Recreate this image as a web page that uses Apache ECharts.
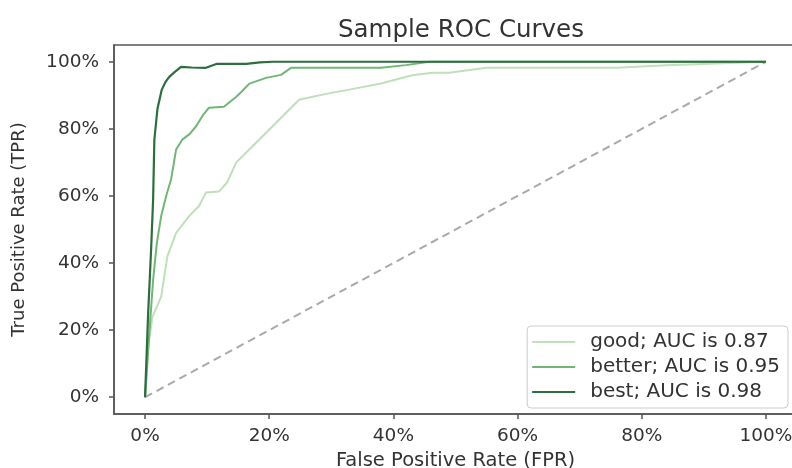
<!DOCTYPE html>
<html>
<head>
<meta charset="utf-8">
<script src="https://cdn.jsdelivr.net/npm/echarts@6/dist/echarts.min.js"></script>
<style>
html,body{margin:0;padding:0;background:#fff;}
#chart{width:792px;height:468px;}
</style>
</head>
<body>
<div id="chart"></div>
<script>
const tickValues = [0, 20, 40, 60, 80, 100];

const fprGood = [0, 0.5, 1.2, 2.6, 3.6, 5.0, 7.1, 8.7, 9.8, 11.9, 13.2, 14.7, 17.3, 20.5, 22.7, 24.8, 27.0, 30.2, 32.9, 38.0, 43.0, 46.3, 49.0, 55.0, 76.0, 84.0, 100];
const tprGood = [0, 15, 24, 30, 42, 49, 54, 57, 61, 61.3, 64, 70, 74.8, 80.7, 84.8, 88.7, 89.6, 90.8, 91.7, 93.5, 96.0, 96.7, 96.7, 98.2, 98.2, 99.0, 100];

const fprBetter = [0, 0.8, 1.3, 1.9, 2.6, 3.4, 4.2, 5.0, 6.0, 7.2, 8.2, 9.3, 10.3, 12.7, 14.7, 15.5, 16.8, 19.5, 21.9, 23.5, 38.0, 42.0, 45.8, 100];
const tprBetter = [0, 22, 35, 46, 54, 60, 65, 73.8, 76.8, 78.5, 80.7, 84.0, 86.3, 86.6, 89.6, 91.0, 93.5, 95.2, 96.1, 98.2, 98.2, 99.0, 100, 100];

const fprBest = [0, 0.5, 1.0, 1.3, 1.5, 2.0, 2.7, 3.3, 3.9, 4.8, 5.8, 7.5, 9.8, 11.6, 16.3, 18.5, 20.5, 100];
const tprBest = [0, 25, 45, 59, 76.8, 86, 91.7, 94, 95.5, 97, 98.5, 98.3, 98.2, 99.4, 99.4, 99.8, 100, 100];

const fprDiag = [0, 100];
const tprDiag = [0, 100];

const names = ['good; AUC is 0.87', 'better; AUC is 0.95', 'best; AUC is 0.98'];
const colors = ['#bfe0b8', '#70b774', '#2c6e3f'];

function zip(xs, ys) { return xs.map((x, i) => [x, ys[i]]); }

const FONT = 'DejaVu Sans';
const chart = echarts.init(document.getElementById('chart'), null, {renderer: 'canvas'});
chart.setOption({
  animation: false,
  backgroundColor: '#fff',
  title: {
    text: 'Sample ROC Curves',
    left: 456, textAlign: 'center', top: 13,
    textStyle: {fontFamily: FONT, fontSize: 24.5, fontWeight: 'normal', color: '#333'}
  },
  grid: {left: 114, right: -5, top: 45, bottom: 54, outerBoundsMode: 'none', containLabel: false,
         show: true, borderColor: '#555', borderWidth: 1.5},
  xAxis: {
    type: 'value', min: -5, max: 105,
    name: 'False Positive Rate (FPR)', nameLocation: 'middle', nameGap: 33,
    nameTextStyle: {fontFamily: FONT, fontSize: 19.5, color: '#333'},
    axisLine: {show: true, onZero: false, lineStyle: {color: '#555', width: 1.5}},
    axisTick: {show: true, length: 5, customValues: tickValues, lineStyle: {color: '#555', width: 1.5}},
    axisLabel: {customValues: tickValues, formatter: v => v + '%', margin: 13, fontFamily: FONT, fontSize: 18.5, color: '#333'},
    splitLine: {show: false}
  },
  yAxis: {
    type: 'value', min: -5, max: 105,
    name: 'True Positive Rate (TPR)', nameLocation: 'middle', nameGap: 86, nameRotate: 90,
    nameTextStyle: {fontFamily: FONT, fontSize: 18, color: '#333'},
    axisLine: {show: true, onZero: false, lineStyle: {color: '#555', width: 1.5}},
    axisTick: {show: true, length: 5, customValues: tickValues, lineStyle: {color: '#555', width: 1.5}},
    axisLabel: {customValues: tickValues, formatter: v => v + '%', margin: 15, fontFamily: FONT, fontSize: 18.5, color: '#333'},
    splitLine: {show: false}
  },
  legend: {
    data: names,
    orient: 'vertical', right: 4, top: 326,
    icon: 'rect',
    backgroundColor: 'rgba(255,255,255,0.85)', borderColor: '#ccc', borderWidth: 1, borderRadius: 4,
    padding: [6, 8, 6, 5],
    itemWidth: 43, itemHeight: 2.2, itemGap: 5,
    textStyle: {fontFamily: FONT, fontSize: 20, color: '#333', lineHeight: 19.5, padding: [0, 0, 0, 10]}
  },
  series: [
    {type: 'line', name: 'diag', data: zip(fprDiag, tprDiag), symbol: 'none', silent: true,
     lineStyle: {color: '#aaaaaa', width: 2, type: [8, 5]}},
    {type: 'line', name: names[0], data: zip(fprGood, tprGood), symbol: 'none', color: colors[0],
     lineStyle: {color: colors[0], width: 2}},
    {type: 'line', name: names[1], data: zip(fprBetter, tprBetter), symbol: 'none', color: colors[1],
     lineStyle: {color: colors[1], width: 2}},
    {type: 'line', name: names[2], data: zip(fprBest, tprBest), symbol: 'none', color: colors[2],
     lineStyle: {color: colors[2], width: 2.2}}
  ]
});
</script>
</body>
</html>
